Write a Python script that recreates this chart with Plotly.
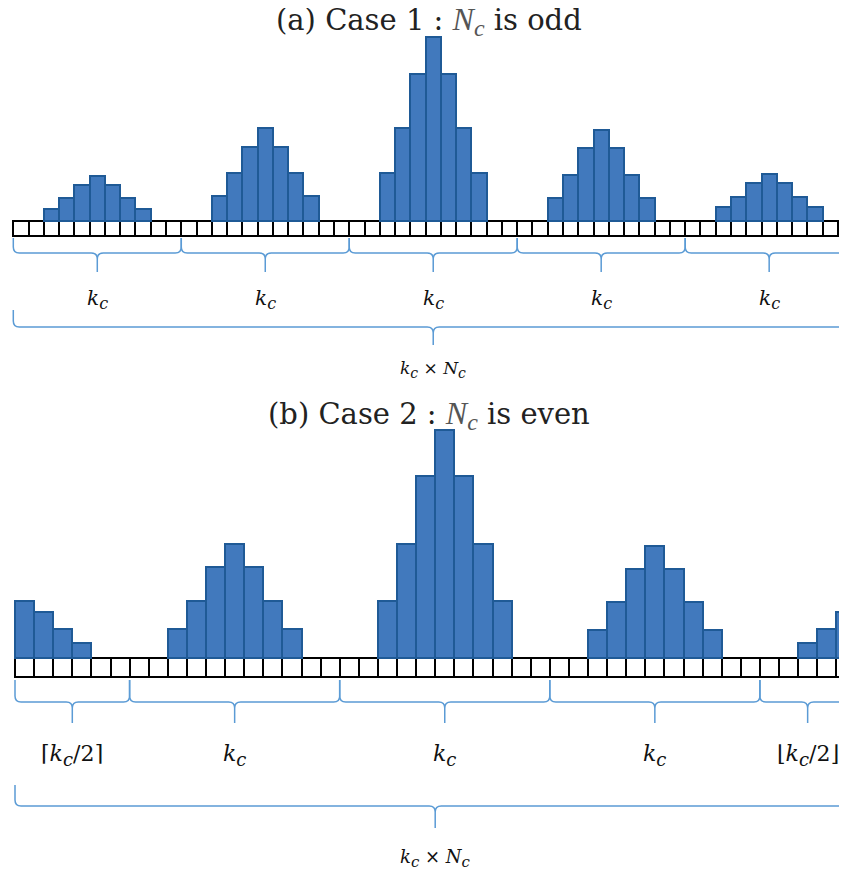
import plotly.graph_objects as go

# ---------------- data ----------------
# Panel (a): N_c odd
top_n_cells = 55
top_peak_start = [2, 13, 24, 35, 46]
top_peaks = [
    [12, 23, 36, 45, 36, 23, 12],
    [25, 48, 74, 93, 74, 48, 25],
    [48, 93, 147, 184, 147, 93, 48],
    [23, 46, 73, 91, 73, 46, 23],
    [14, 24, 38, 47, 38, 24, 14],
]
top_brace_sizes = [11, 11, 11, 11, 11]
top_brace_labels = ["k_c", "k_c", "k_c", "k_c", "k_c"]

# Panel (b): N_c even
bot_n_cells = 44
bot_peak_start = [0, 8, 19, 30, 41]
bot_peaks = [
    [57, 46, 29, 15],
    [29, 57, 91, 114, 91, 57, 29],
    [57, 114, 182, 228, 182, 114, 57],
    [28, 56, 89, 112, 89, 56, 28],
    [15, 29, 46],
]
bot_brace_sizes = [6, 11, 11, 11, 5]
bot_brace_labels = ["ceil", "k_c", "k_c", "k_c", "floor"]

title_a = "(a) Case 1 : "
title_b = "(b) Case 2 : "
title_a_tail = " is odd"
title_b_tail = " is even"

# ---------------- styles ----------------
W, H = 847, 872
PAGE = 8  # default page margin around the figure
BAR_FILL = "#4179bd"
BAR_LINE = "#1f5a96"
BRACE = "#5b9bd5"
SERIF = "DejaVu Serif"
MATH = "DejaVu Serif"


def sub_c(sub):
    return f"<sub><span style='font-size:{sub}px'><i>c</i></span></sub>"


def label_html(lab, sub):
    k = "<i>k</i>" + sub_c(sub)
    if lab == "ceil":
        return "\u2308" + k + "/2\u2309"
    if lab == "floor":
        return "\u230a" + k + "/2\u230b"
    return k


def total_html(sub):
    return "<i>k</i>" + sub_c(sub) + " \u00d7 <i>N</i>" + sub_c(sub)


# panel geometry (pixels in the reference picture)
panels = [
    dict(x0=13.3, ppu=15.27, base=221, n=top_n_cells, starts=top_peak_start,
         peaks=top_peaks, sizes=top_brace_sizes, labels=top_brace_labels,
         b1=(17, 32, 51), lab1=78, lsize=20, lsub=16,
         b2=(89, 106, 124), lab2=148, tsize=17, tsub=14,
         title=title_a, tail=title_a_tail, title_y=21, xa="x", ya="y"),
    dict(x0=15.0, ppu=19.1, base=658, n=bot_n_cells, starts=bot_peak_start,
         peaks=bot_peaks, sizes=bot_brace_sizes, labels=bot_brace_labels,
         b1=(22, 44, 65), lab1=97, lsize=22, lsub=18,
         b2=(127, 148, 170), lab2=200, tsize=18, tsub=15,
         title=title_b, tail=title_b_tail, title_y=415, xa="x2", ya="y2"),
]

fig = go.Figure()
shapes = []
annotations = []


def brace_path(xa, xb, y0, y1, y2, ppu, r=6.0):
    rx = r / ppu
    m = (xa + xb) / 2
    return (f"M {xa},{y0} L {xa},{y1 + r} Q {xa},{y1} {xa + rx},{y1} "
            f"L {m - rx},{y1} Q {m},{y1} {m},{y1 - r} L {m},{y2} "
            f"M {m},{y1 - r} Q {m},{y1} {m + rx},{y1} "
            f"L {xb - rx},{y1} Q {xb},{y1} {xb},{y1 + r} L {xb},{y0}")


for p in panels:
    ch = p["ppu"]  # cell height in y-units (pixels)
    cx = [i + 0.5 for i in range(p["n"])]
    fig.add_trace(go.Bar(x=cx, y=[ch] * p["n"], base=[-ch] * p["n"], width=1,
                         marker=dict(color="white", line=dict(color="black", width=2)),
                         xaxis=p["xa"], yaxis=p["ya"], showlegend=False, hoverinfo="skip"))
    bx, by = [], []
    for s, vals in zip(p["starts"], p["peaks"]):
        for j, v in enumerate(vals):
            bx.append(s + j + 0.5)
            by.append(v)
    fig.add_trace(go.Bar(x=bx, y=by, width=1,
                         marker=dict(color=BAR_FILL, line=dict(color=BAR_LINE, width=2)),
                         xaxis=p["xa"], yaxis=p["ya"], showlegend=False, hoverinfo="skip"))
    y0, y1, y2 = (-v for v in p["b1"])
    pos = 0
    for size, lab in zip(p["sizes"], p["labels"]):
        xa_, xb_ = pos, pos + size
        shapes.append(dict(type="path", xref=p["xa"], yref=p["ya"],
                           path=brace_path(xa_, xb_, y0, y1, y2, p["ppu"]),
                           line=dict(color=BRACE, width=1.5)))
        annotations.append(dict(x=(xa_ + xb_) / 2, y=-p["lab1"], xref=p["xa"], yref=p["ya"],
                                text=label_html(lab, p["lsub"]), showarrow=False,
                                yanchor="middle", xanchor="center",
                                font=dict(family=MATH, size=p["lsize"], color="#111")))
        pos += size
    Y0, Y1, Y2 = (-v for v in p["b2"])
    shapes.append(dict(type="path", xref=p["xa"], yref=p["ya"],
                       path=brace_path(0, pos, Y0, Y1, Y2, p["ppu"]),
                       line=dict(color=BRACE, width=1.5)))
    annotations.append(dict(x=pos / 2, y=-p["lab2"], xref=p["xa"], yref=p["ya"],
                            text=total_html(p["tsub"]), showarrow=False,
                            yanchor="middle", xanchor="center",
                            font=dict(family=MATH, size=p["tsize"], color="#111")))
    annotations.append(dict(x=(429 - PAGE) / W, y=1 - (p["title_y"] - PAGE) / H,
                            xref="paper", yref="paper", yanchor="middle", xanchor="center",
                            text=p["title"] + "<span style='font-family:Liberation Serif;color:#555;font-size:32px'><i>N</i></span>"
                                 "<sub><span style='font-family:Liberation Serif;color:#555;font-size:24px'><i>c</i></span></sub>" + p["tail"],
                            showarrow=False,
                            font=dict(family=SERIF, size=29, color="#222")))


def xrange(p):
    left = -(p["x0"] - PAGE) / p["ppu"]
    return [left, left + W / p["ppu"]]


def yrange(p):
    top = p["base"] - PAGE
    return [top - H, top]


ax = dict(visible=False, showgrid=False, zeroline=False, fixedrange=True)
fig.update_layout(
    width=W, height=H,
    margin=dict(l=0, r=0, t=0, b=0),
    paper_bgcolor="white", plot_bgcolor="rgba(0,0,0,0)",
    barmode="overlay", bargap=0,
    xaxis=dict(ax, domain=[0, 1], range=xrange(panels[0])),
    yaxis=dict(ax, domain=[0, 1], range=yrange(panels[0])),
    xaxis2=dict(ax, domain=[0, 1], range=xrange(panels[1]), anchor="y2", overlaying="x"),
    yaxis2=dict(ax, domain=[0, 1], range=yrange(panels[1]), anchor="x2", overlaying="y"),
    shapes=shapes, annotations=annotations,
)

fig.write_html("out.html")
